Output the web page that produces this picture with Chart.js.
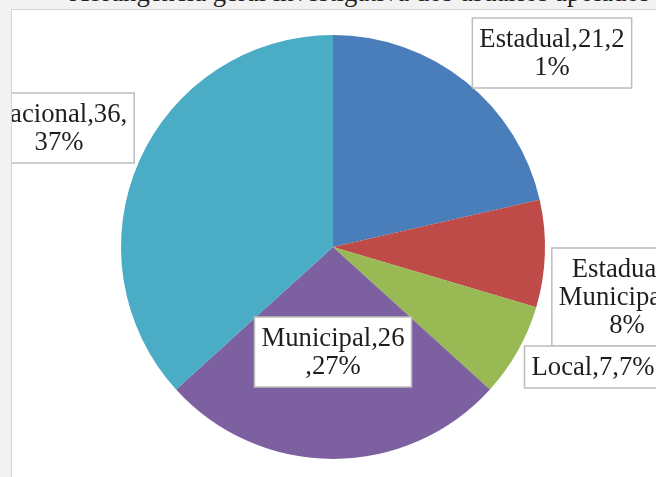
<!DOCTYPE html>
<html>
<head>
<meta charset="utf-8">
<script src="https://cdn.jsdelivr.net/npm/chart.js@4/dist/chart.umd.min.js"></script>
<style>
  html, body { margin: 0; padding: 0; }
  body { width: 656px; height: 477px; background: #f2f2f2; position: relative; overflow: hidden; }
  #title { position: absolute; right: 6px; top: -23px; font: 26.7px "Liberation Serif", serif; line-height: 30px; color: #222; white-space: nowrap; }
  #frame { position: absolute; left: 11px; top: 9px; width: 660px; height: 480px; background: #fff; border: 1px solid #d6d6d6; }
  #wrap { position: absolute; left: 12px; top: 10px; width: 644px; height: 467px; }
</style>
</head>
<body>
<div id="title">Abrangência geral investigativa dos usuários apoiados</div>
<div id="frame"></div>
<div id="wrap"><canvas id="pie"></canvas></div>
<script>
'use strict';

//categories and values
const categories = ['Estadual', 'Estadual e Municipal', 'Local', 'Municipal', 'Nacional'];
const counts = [21, 8, 7, 26, 36];
const percents = ['21%', '8%', '7%', '27%', '37%'];
const sliceColors = ['#4a7ebb', '#be4b48', '#98b954', '#7d60a0', '#4aacc5'];

//how each data label wraps, as excel did it
const labelLines = [
  ['Estadual,21,2', '1%'],
  ['Estadual e', 'Municipal,8,', '8%'],
  ['Local,7,7%'],
  ['Municipal,26', ',27%'],
  ['Nacional,36,', '37%']
];
//label box centres, offset from the pie centre
const labelOffsets = [[219, -194], [294, 50], [260, 120], [0, 105], [-274, -119]];

//draws the boxed data labels on top of the slices
const boxLabels = {
  id: 'boxLabels',
  afterDatasetsDraw(chart){
    const ctx = chart.ctx;
    const arcs = chart.getDatasetMeta(0).data;
    const lineH = 28;
    const pad = 7;
    ctx.save();
    ctx.font = '26.7px "Liberation Serif", serif';
    ctx.textAlign = 'center';
    ctx.textBaseline = 'middle';
    arcs.forEach(function(arc, i){
      let lines = labelLines[i];
      let cx = arc.x + labelOffsets[i][0];
      let cy = arc.y + labelOffsets[i][1];
      let w = Math.max.apply(null, lines.map(l => ctx.measureText(l).width)) + pad * 2;
      let h = lines.length * lineH + pad * 2;
      ctx.fillStyle = '#fff';
      ctx.fillRect(cx - w / 2, cy - h / 2, w, h);
      ctx.strokeStyle = '#bdbdbd';
      ctx.lineWidth = 1.5;
      ctx.strokeRect(cx - w / 2, cy - h / 2, w, h);
      ctx.fillStyle = '#1e1e1e';
      lines.forEach(function(line, k){
        ctx.fillText(line, cx, cy - h / 2 + pad + lineH * k + lineH / 2 + 1);
      });
    });
    ctx.restore();
  }
};

const config = {
  type: 'pie',
  data: {
    labels: categories,
    datasets: [{
      data: counts,
      backgroundColor: sliceColors,
      borderWidth: 0
    }]
  },
  options: {
    responsive: true,
    maintainAspectRatio: false,
    animation: false,
    layout: { padding: { left: 109, right: 111, top: 25, bottom: 18 } },
    plugins: {
      legend: { display: false },
      tooltip: { enabled: false }
    }
  },
  plugins: [boxLabels]
};

new Chart(document.getElementById('pie'), config);
</script>
</body>
</html>
